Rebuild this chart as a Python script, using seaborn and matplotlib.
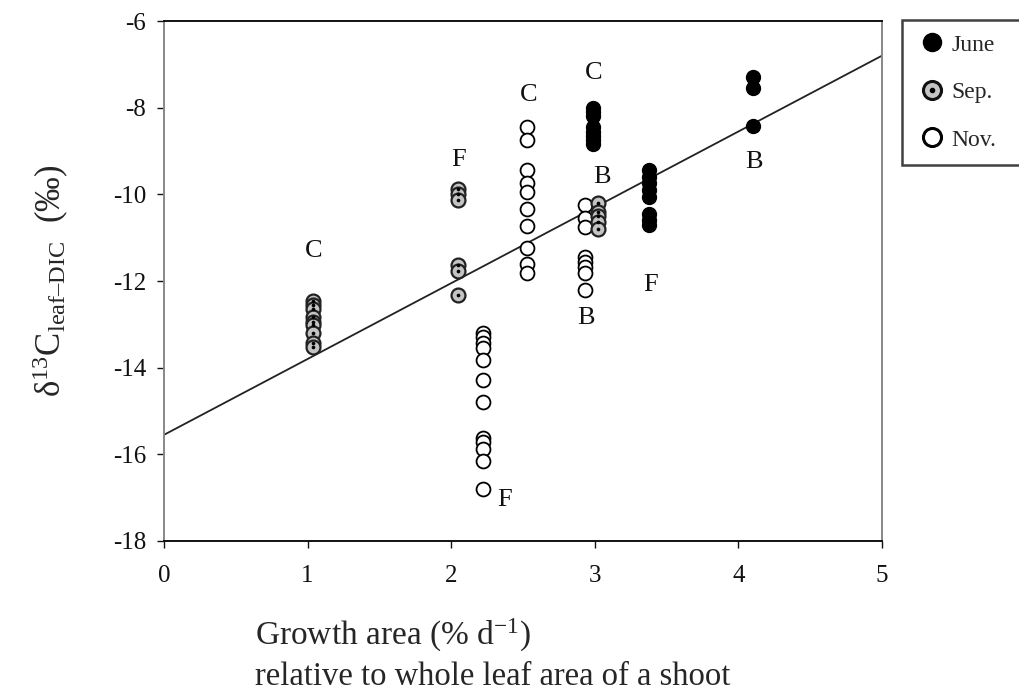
import numpy as np
import pandas as pd
import matplotlib
matplotlib.use("Agg")
import matplotlib.pyplot as plt
import seaborn as sns
from matplotlib.lines import Line2D
from matplotlib.legend_handler import HandlerTuple

# Growth area (% per day) and leaf-DIC carbon isotope discrimination per site/month
june_x = [2.99] * 8 + [3.38] * 8 + [4.10] * 3
june_y = [-8.0, -8.1, -8.2, -8.45, -8.55, -8.65, -8.75, -8.85,
          -9.45, -9.6, -9.75, -9.9, -10.05, -10.45, -10.6, -10.7,
          -7.3, -7.55, -8.42]

sep_x = [1.04] * 9 + [2.05] * 6 + [3.02] * 5
sep_y = [-12.47, -12.55, -12.65, -12.82, -12.94, -13.02, -13.2, -13.42, -13.52,
         -9.88, -10.0, -10.12, -11.62, -11.78, -12.33,
         -10.2, -10.4, -10.5, -10.65, -10.8]

nov_x = [2.22] * 12 + [2.53] * 10 + [2.93] * 8
nov_y = [-13.2, -13.3, -13.42, -13.55, -13.82, -14.28, -14.8, -15.62, -15.72, -15.88, -16.15, -16.8,
         -8.45, -8.75, -9.45, -9.75, -9.95, -10.35, -10.72, -11.25, -11.6, -11.82,
         -10.25, -10.55, -10.75, -11.45, -11.55, -11.68, -11.82, -12.2]

# Linear fit across all months
fit_intercept = -15.55
fit_slope = 1.75

# Site labels
site_labels = ["C", "F", "C", "C", "B", "F", "B", "F", "B"]
site_x = [1.04, 2.05, 2.54, 2.99, 3.05, 2.37, 2.94, 3.39, 4.11]
site_y = [-11.3, -9.2, -7.7, -7.2, -9.6, -17.05, -12.85, -12.1, -9.25]

df = pd.concat([
    pd.DataFrame({"x": june_x, "y": june_y, "month": "June"}),
    pd.DataFrame({"x": sep_x, "y": sep_y, "month": "Sep."}),
    pd.DataFrame({"x": nov_x, "y": nov_y, "month": "Nov."}),
])

sns.set_theme(style="white")
plt.rcParams["font.family"] = ["Liberation Serif", "DejaVu Serif"]
plt.rcParams["mathtext.fontset"] = "custom"
plt.rcParams["mathtext.rm"] = "Liberation Serif"
plt.rcParams["mathtext.it"] = "Liberation Serif:italic"

fig = plt.figure(figsize=(10.19, 6.93), dpi=100)
ax = fig.add_axes([164 / 1019, 1 - 541 / 693, (882 - 164) / 1019, (541 - 21) / 693])

# regression line
xs = np.array([0.0, 5.0])
sns.lineplot(x=xs, y=fit_intercept + fit_slope * xs, ax=ax, color="#222222", lw=1.3)

ms = 100
sns.scatterplot(data=df[df.month == "Nov."], x="x", y="y", ax=ax, s=ms,
                facecolor="white", edgecolor="black", linewidth=1.3, zorder=3)
sns.scatterplot(data=df[df.month == "Sep."], x="x", y="y", ax=ax, s=ms,
                color="#c4c4c4", edgecolor="#222222", linewidth=1.6, zorder=4)
sns.scatterplot(data=df[df.month == "Sep."], x="x", y="y", ax=ax, s=7,
                color="black", edgecolor="black", linewidth=0, zorder=5)
sns.scatterplot(data=df[df.month == "June"], x="x", y="y", ax=ax, s=ms,
                color="black", edgecolor="black", linewidth=1.0, zorder=6)

for lab, lx, ly in zip(site_labels, site_x, site_y):
    ax.text(lx, ly, lab, ha="center", va="center", fontsize=19, color="#111111")

ax.set_xlim(0, 5)
ax.set_ylim(-18, -6)
ax.set_xticks([0, 1, 2, 3, 4, 5])
ax.set_yticks(np.arange(-18, -5, 2))
ax.set_yticklabels([str(v) for v in np.arange(-18, -5, 2)])
ax.tick_params(axis="both", direction="out", length=5, width=1, labelsize=18,
               bottom=True, left=True, colors="#111111", pad=8)
ax.tick_params(axis="x", pad=12)
for side in ["top", "bottom"]:
    ax.spines[side].set_color("#111111")
    ax.spines[side].set_linewidth(1.4)
for side in ["left", "right"]:
    ax.spines[side].set_color("#888888")
    ax.spines[side].set_linewidth(1.4)
ax.set_xlabel("")
ax.set_ylabel("δ$^{13}$C$_{\\mathrm{leaf\u2013DIC}}$  (‰)", fontsize=25, labelpad=30)

fig.text(255 / 1019, 1 - 635 / 693, "Growth area (% d$^{-1}$)", fontsize=24,
         ha="left", va="center")
fig.text(255 / 1019, 1 - 677 / 693, "relative to whole leaf area of a shoot", fontsize=23.5,
         ha="left", va="center")

# legend
h_june = Line2D([], [], marker="o", ls="", markersize=13, markerfacecolor="black",
                markeredgecolor="black")
h_sep = (Line2D([], [], marker="o", ls="", markersize=13, markerfacecolor="#c4c4c4",
                markeredgecolor="#111111", markeredgewidth=2.2),
         Line2D([], [], marker="o", ls="", markersize=3, markerfacecolor="black",
                markeredgecolor="black"))
h_nov = Line2D([], [], marker="o", ls="", markersize=13, markerfacecolor="white",
               markeredgecolor="black", markeredgewidth=2.2)
leg = fig.legend([h_june, h_sep, h_nov], ["June", "Sep.", "Nov."],
                 handler_map={tuple: HandlerTuple(ndivide=1, pad=0)},
                 loc="upper left", mode="expand",
                 bbox_to_anchor=(902 / 1019, 1 - 168 / 693, 0.14, 148 / 693),
                 frameon=True, fancybox=False, fontsize=17, labelspacing=1.1,
                 handletextpad=0.2, handlelength=1.3, borderpad=0.6, borderaxespad=0)
leg.get_frame().set_edgecolor("#111111")
leg.get_frame().set_linewidth(1.8)

fig.savefig("out.png", dpi=100)
